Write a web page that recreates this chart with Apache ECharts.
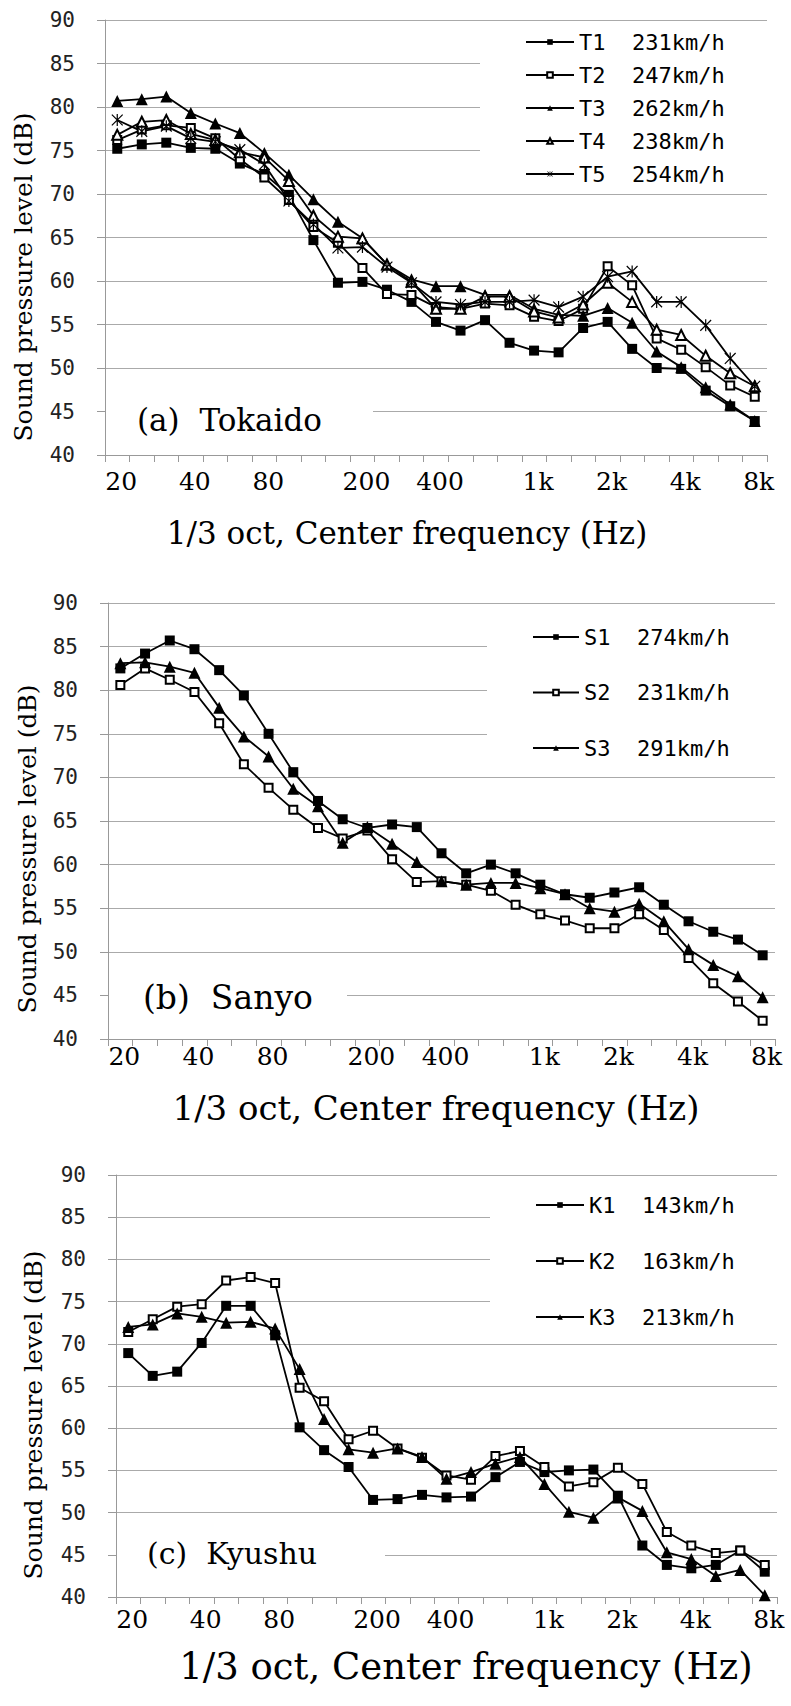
<!DOCTYPE html>
<html><head><meta charset="utf-8">
<script src="https://cdn.jsdelivr.net/npm/echarts@6/dist/echarts.min.js"></script>
<style>html,body{margin:0;padding:0;background:#fff}#c{width:791px;height:1706px}</style>
</head><body><div id="c"></div>
<script>
// 1/3 octave band centre frequencies (categories)
const freqs = ['20','25','31.5','40','50','63','80','100','125','160','200','250','315','400','500','630','800','1k','1.25k','1.6k','2k','2.5k','3.15k','4k','5k','6.3k','8k'];
const tickLabels = ['20','40','80','200','400','1k','2k','4k','8k'];
const yTicks = [40, 90, 5]; // min, max, step (dB)

// (a) Tokaido
const tokaidoNames = ['T1  231km/h','T2  247km/h','T3  262km/h','T4  238km/h','T5  254km/h'];
const T1 = [75.2,75.7,75.9,75.3,75.2,73.5,72.3,69.9,64.7,59.8,59.9,59.0,57.6,55.3,54.3,55.5,52.9,52.0,51.8,54.6,55.3,52.2,50.0,49.9,47.4,45.6,43.9];
const T2 = [76.2,77.4,77.9,77.6,76.4,74.0,71.9,69.3,66.2,64.4,61.5,58.5,58.4,57.0,56.8,57.4,57.2,55.9,55.4,56.8,61.7,59.5,53.4,52.1,50.1,48.0,46.7];
const T3 = [80.7,80.9,81.2,79.3,78.1,77.0,74.7,72.2,69.4,66.8,64.9,61.9,60.2,59.4,59.4,58.4,58.4,56.8,56.1,56.0,56.9,55.2,51.9,50.1,47.8,45.8,43.9];
const T4 = [76.8,78.3,78.5,76.9,76.2,74.8,74.2,71.5,67.5,65.1,64.9,61.9,59.9,56.8,56.8,58.2,58.2,56.5,55.8,57.3,59.8,57.6,54.4,53.8,51.4,49.4,47.9];
const T5 = [78.5,77.2,77.8,76.4,76.0,75.1,73.4,69.2,66.5,63.8,63.9,61.6,59.8,57.6,57.3,57.6,57.6,57.8,57.0,58.2,60.5,61.1,57.6,57.6,54.9,51.1,47.9];

// (b) Sanyo
const sanyoNames = ['S1  274km/h','S2  231km/h','S3  291km/h'];
const S1 = [82.5,84.2,85.7,84.7,82.3,79.4,75.0,70.6,67.3,65.2,64.2,64.6,64.3,61.3,59.0,60.0,59.0,57.7,56.6,56.2,56.8,57.4,55.4,53.5,52.3,51.4,49.6];
const S2 = [80.6,82.5,81.2,79.8,76.2,71.5,68.8,66.3,64.2,63.0,63.9,60.6,58.0,58.1,57.7,57.0,55.4,54.3,53.6,52.7,52.7,54.3,52.5,49.3,46.4,44.3,42.1];
const S3 = [83.1,83.2,82.7,82.0,78.0,74.7,72.4,68.7,66.7,62.5,64.3,62.4,60.3,58.1,57.7,57.9,57.9,57.3,56.6,55.0,54.6,55.5,53.5,50.3,48.5,47.2,44.8];

// (c) Kyushu
const kyushuNames = ['K1  143km/h','K2  163km/h','K3  213km/h'];
const K1 = [68.9,66.2,66.7,70.1,74.5,74.5,71.0,60.1,57.4,55.4,51.5,51.6,52.1,51.8,51.9,54.2,56.0,54.8,55.0,55.1,52.0,46.1,43.8,43.4,43.8,45.5,43.0];
const K2 = [71.4,72.9,74.4,74.7,77.5,77.9,77.2,64.8,63.2,58.7,59.7,57.6,56.5,54.4,53.9,56.7,57.3,55.4,53.1,53.6,55.3,53.4,47.7,46.1,45.2,45.5,43.8];
const K3 = [72.0,72.3,73.6,73.2,72.5,72.6,71.8,67.0,61.1,57.5,57.1,57.6,56.6,54.0,54.8,55.8,56.6,53.4,50.1,49.4,51.8,50.2,45.3,44.5,42.5,43.2,40.2];

const panelTitles = ['(a)  Tokaido','(b)  Sanyo','(c)  Kyushu'];
const xTitle = '1/3 oct, Center frequency (Hz)';
const yTitle = 'Sound pressure level (dB)';

// ---------- styling / layout ----------
const STAR = 'path://M9,0L11,0L11,20L9,20Z M0.3,1.7L1.7,0.3L19.7,18.3L18.3,19.7Z M18.3,0.3L19.7,1.7L1.7,19.7L0.3,18.3Z';
const marks = {
  fsq:  {symbol:'rect', size:10, bw:0},
  osq:  {symbol:'emptyRect', size:8, bw:2},
  ftri: {symbol:'triangle', size:12, bw:0},
  otri: {symbol:'emptyTriangle', size:10, bw:1.2},
  star: {symbol:STAR, size:12, bw:0}
};
const serif = '"DejaVu Serif", "Liberation Serif", serif';
const mono = '"DejaVu Sans Mono", "Liberation Mono", monospace';

const panels = [
  {grid:{left:105, top:20, width:662, height:435}, lblMargin:14, names:tokaidoNames, data:[T1,T2,T3,T4,T5], marks:['fsq','osq','ftri','otri','star'],
   legend:{left:525, top:31, itemWidth:48, itemGap:11}, cover:[480,25,288,164],
   yt:[23,277], xt:[407,533,31], pt:[137,420,31], ptCover:[106,405,267,13]},
  {grid:{left:108, top:603, width:667, height:436}, lblMargin:5, names:sanyoNames, data:[S1,S2,S3], marks:['fsq','osq','ftri'],
   legend:{left:532, top:626, itemWidth:46, itemGap:33.5}, cover:[487,610,289,160],
   yt:[27,849], xt:[436,1108,34], pt:[143,997,33], ptCover:[109,989,238,13]},
  {grid:{left:116, top:1175, width:661, height:422}, lblMargin:10, names:kyushuNames, data:[K1,K2,K3], marks:['fsq','osq','ftri'],
   legend:{left:535, top:1194, itemWidth:48, itemGap:34}, cover:[490,1185,288,150],
   yt:[33,1415], xt:[466,1666,37], pt:[147,1553,30], ptCover:[117,1548,268,13]}
];

const option = {animation:false, backgroundColor:'#fff', grid:[], xAxis:[], yAxis:[], series:[], legend:[], graphic:[]};

panels.forEach((p, g) => {
  option.grid.push(Object.assign({outerBoundsMode:'none', containLabel:false}, p.grid));
  option.xAxis.push({
    type:'category', gridIndex:g, data:freqs, boundaryGap:true,
    axisLine:{lineStyle:{color:'#999', width:1}},
    axisTick:{show:true, interval:0, length:7, lineStyle:{color:'#999'}},
    axisLabel:{interval:(i, v) => tickLabels.includes(v), margin:p.lblMargin, fontFamily:serif, fontSize:25, color:'#000', padding:[0,0,0,8], hideOverlap:false},
    splitLine:{show:false}
  });
  option.yAxis.push({
    type:'value', gridIndex:g, min:yTicks[0], max:yTicks[1], interval:yTicks[2],
    axisLine:{show:true, lineStyle:{color:'#999'}},
    axisTick:{show:true, length:8, lineStyle:{color:'#999'}},
    axisLabel:{margin:30, fontFamily:mono, fontSize:21, color:'#222'},
    splitLine:{show:true, lineStyle:{color:'#aaa', width:1}}
  });
  p.names.forEach((nm, k) => {
    const m = marks[p.marks[k]];
    option.series.push({
      type:'line', name:nm, data:p.data[k], xAxisIndex:g, yAxisIndex:g,
      symbol:m.symbol, symbolSize:m.size, symbolKeepAspect:true, showAllSymbol:true,
      lineStyle:{color:'#000', width:1.8},
      itemStyle:{color:'#000', borderColor:'#000', borderWidth:m.bw},
      emphasis:{disabled:true}, z:2
    });
  });
  option.legend.push({
    orient:'vertical', left:p.legend.left, top:p.legend.top, padding:0,
    itemWidth:p.legend.itemWidth, itemHeight:7, itemGap:p.legend.itemGap,
    data:p.names, selectedMode:false, z:4,
    textStyle:{fontFamily:mono, fontSize:22, lineHeight:22, color:'#000'}
  });
  // white box behind legend (hides grid lines as in the original)
  option.graphic.push({type:'rect', silent:true, z:3, shape:{x:p.cover[0], y:p.cover[1], width:p.cover[2], height:p.cover[3]}, style:{fill:'#fff'}});
  // white box behind panel label
  option.graphic.push({type:'rect', silent:true, z:3, shape:{x:p.ptCover[0], y:p.ptCover[1], width:p.ptCover[2], height:p.ptCover[3]}, style:{fill:'#fff'}});
  option.graphic.push({type:'text', silent:true, z:5, x:p.pt[0], y:p.pt[1],
    style:{text:panelTitles[g], font:p.pt[2]+'px '+serif, fill:'#000', align:'left', verticalAlign:'middle', textAlign:'left', textVerticalAlign:'middle'}});
  option.graphic.push({type:'text', silent:true, z:5, x:p.yt[0], y:p.yt[1], rotation:Math.PI/2,
    style:{text:yTitle, font:'25px '+serif, fill:'#000', align:'center', verticalAlign:'middle', textAlign:'center', textVerticalAlign:'middle'}});
  option.graphic.push({type:'text', silent:true, z:5, x:p.xt[0], y:p.xt[1],
    style:{text:xTitle, font:p.xt[2]+'px '+serif, fill:'#000', align:'center', verticalAlign:'middle', textAlign:'center', textVerticalAlign:'middle'}});
});

const chart = echarts.init(document.getElementById('c'), null, {renderer:'svg', width:791, height:1706});
chart.setOption(option);
</script>
</body></html>
